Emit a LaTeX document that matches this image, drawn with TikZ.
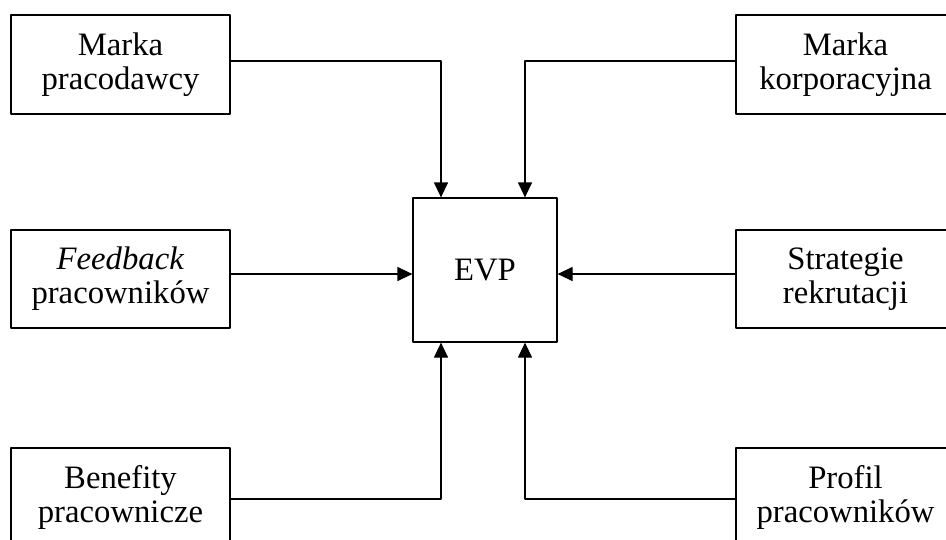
\documentclass[tikz,border=0pt]{standalone}
\usepackage{fontspec}
\setmainfont{Liberation Serif}
\usetikzlibrary{arrows.meta}

\begin{document}
\begin{tikzpicture}[x=1pt,y=-1pt,>={Triangle[length=15pt,width=14pt]}, font=\fontsize{32.7}{34}\selectfont, line join=round]
	\def\bw{219} \def\bh{99} % wymiary ramek
	\tikzset{box/.style={draw,line width=1.2pt,align=center,inner sep=0pt,minimum width=\bw pt,minimum height=\bh pt},
		link/.style={->,line width=1.2pt}}
	\useasboundingbox (0,0) rectangle (946,539);

	\node[box,minimum width=144pt,minimum height=144pt] (evp) at (485,270) {EVP};
	\node[box] (mp) at (120.5,64.5) {Marka\\pracodawcy};
	\node[box] (mk) at (845.5,64.5) {Marka\\korporacyjna};
	\node[box,minimum height=98pt] (fp) at (120.5,279) {\textit{Feedback}\\pracowników};
	\node[box,minimum height=98pt] (sr) at (845.5,279) {Strategie\\rekrutacji};
	\node[box] (bp) at (120.5,497.5) {Benefity\\pracownicze};
	\node[box] (pp) at (845.5,497.5) {Profil\\pracowników};

	\draw[link] ([yshift=3.5pt]mp.east) -| ([xshift=-44pt]evp.north);
	\draw[link] ([yshift=3.5pt]mk.west) -| ([xshift=40pt]evp.north);
	\draw[link] ([yshift=5pt]fp.east) -- ([yshift=5pt]fp.east -| evp.west);
	\draw[link] ([yshift=5pt]sr.west) -- ([yshift=5pt]sr.west -| evp.east);
	\draw[link] ([yshift=-1.5pt]bp.east) -| ([xshift=-44pt]evp.south);
	\draw[link] ([yshift=-1.5pt]pp.west) -| ([xshift=40pt]evp.south);
\end{tikzpicture}
\end{document}
